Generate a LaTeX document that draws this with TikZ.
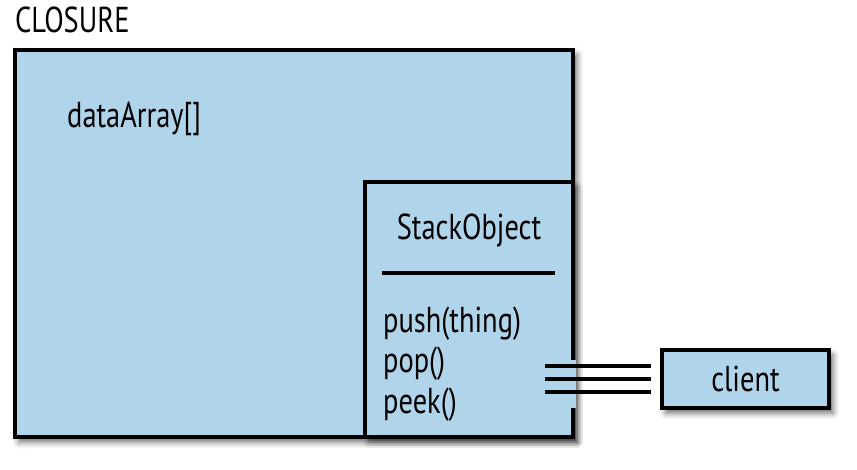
\documentclass[tikz,border=0pt]{standalone}
\usepackage{fontspec}
\setmainfont[FakeStretch=0.79]{PT Sans}
\usetikzlibrary{shadows.blur}
\definecolor{boxblue}{RGB}{176,212,234}
\tikzstyle{scopebox}=[rectangle,draw=black,line width=4.5pt,fill=boxblue,inner sep=0,
  blur shadow={shadow xshift=4pt,shadow yshift=-5pt,shadow blur radius=6pt,shadow opacity=60}]
\tikzstyle{boxtext}=[inner sep=0,font=\fontsize{36}{40}\selectfont]
\tikzstyle{rule}=[line width=3.5pt]
\tikzstyle{wire}=[line width=3.5pt]

\begin{document}
\begin{tikzpicture}[x=1pt,y=1pt]
        \useasboundingbox (0,0) rectangle (857,469);
        % the closure
        \node[scopebox,minimum width=558,minimum height=387] (closure) at (294,225.5) {};
        \node[boxtext,anchor=base west] (closurename) at (15,436) {CLOSURE};
        \node[boxtext,anchor=base west] (data) at (67,341) {dataArray[]};
        % the object handed out
        \node[scopebox,line width=4pt,minimum width=208,minimum height=255] (stack) at (469,159.5) {};
        \node[boxtext,anchor=base] (stackname) at (469,229) {StackObject};
        \draw[rule] (382,196) -- (555,196);
        \node[boxtext,anchor=base west] (push) at (383,136) {push(thing)};
        \node[boxtext,anchor=base west] (pop) at (383,96) {pop()};
        \node[boxtext,anchor=base west] (peek) at (383,56) {peek()};
        \fill[boxblue] (570,61) rectangle (576,109);
        \node[scopebox,line width=4pt,minimum width=167,minimum height=58,boxtext] (client) at (745.5,90) {client};

        \coordinate (port) at (stack.east |- client.west);
        \foreach \d in {-13,0,13}
            \draw[wire] ([shift={(-30,\d)}]port) -- ([shift={(-9,\d)}]client.west);
    \end{tikzpicture}
\end{document}
